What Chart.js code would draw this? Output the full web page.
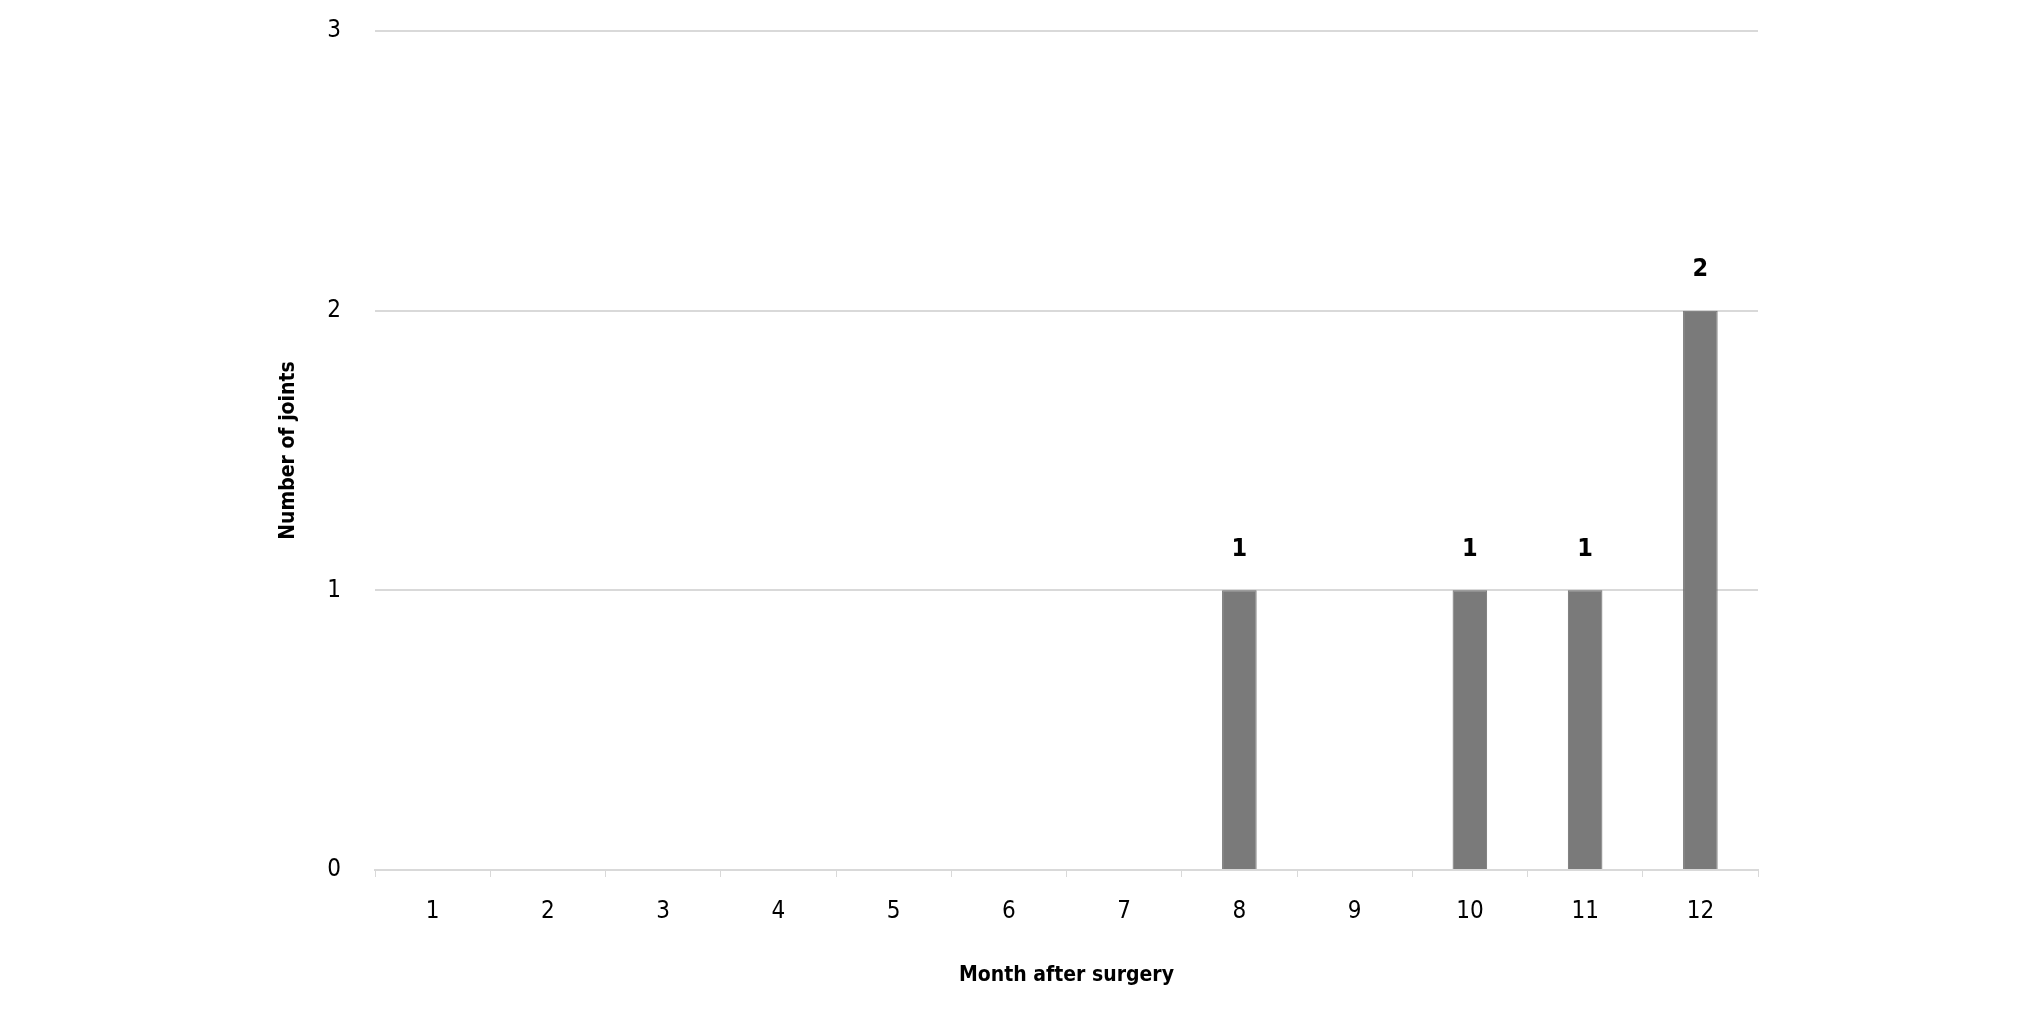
<!DOCTYPE html>
<html lang="en">
<head>
  <meta charset="UTF-8">
  <title>Month after surgery</title>
  <script src="https://cdn.jsdelivr.net/npm/chart.js@4.4.2/dist/chart.umd.min.js"></script>
  <style>
    body {
      margin: 0;
      background: #ffffff;
    }
    .wrap {
      width: 2020px;
      height: 1010px;
    }
  </style>
</head>
<body>
  <div class="wrap"><canvas id="chart"></canvas></div>
  <script>
    const months = ['1', '2', '3', '4', '5', '6', '7', '8', '9', '10', '11', '12'];
    const joints = [0, 0, 0, 0, 0, 0, 0, 1, 0, 1, 1, 2];
    const yTicks = [0, 1, 2, 3];

    const FONT = '"Liberation Sans Narrow", "DejaVu Sans Condensed", "Roboto Condensed", "Liberation Sans", sans-serif';

    // value labels above non-zero bars
    const barLabels = {
      id: 'barLabels',
      afterDatasetsDraw(chart) {
        const ctx = chart.ctx;
        const meta = chart.getDatasetMeta(0);
        ctx.save();
        ctx.font = 'bold 25px ' + FONT;
        ctx.fillStyle = '#000';
        ctx.textAlign = 'center';
        ctx.textBaseline = 'middle';
        meta.data.forEach((bar, i) => {
          if (!joints[i]) return;
          ctx.fillText(String(joints[i]), bar.x, bar.y - 41);
        });
        ctx.restore();
      }
    };

    new Chart(document.getElementById('chart'), {
      type: 'bar',
      data: {
        labels: months,
        datasets: [{
          data: joints,
          backgroundColor: '#7a7a7a',
          borderColor: '#6e6e6e',
          borderWidth: 1,
          categoryPercentage: 0.3,
          barPercentage: 1
        }]
      },
      options: {
        responsive: true,
        maintainAspectRatio: false,
        animation: false,
        layout: { padding: { left: 262, right: 262, top: 31, bottom: 18 } },
        plugins: {
          legend: { display: false },
          tooltip: { enabled: false }
        },
        scales: {
          x: {
            grid: { offset: true, drawOnChartArea: false, drawTicks: true, tickLength: 7, color: '#d9d9d9' },
            border: { color: '#d9d9d9', width: 2 },
            ticks: { color: '#000', font: { family: FONT, size: 24 }, padding: 20 },
            title: { display: true, text: 'Month after surgery', color: '#000', font: { family: FONT, size: 21, weight: 'bold' }, padding: { top: 20 } },
            afterFit: (s) => { s.height = 122; }
          },
          y: {
            min: 0,
            max: 3,
            afterBuildTicks: (s) => { s.ticks = yTicks.map(v => ({ value: v })); },
            // invisible tick marks keep the labels away from the plot without adding top padding
            grid: { color: '#d9d9d9', lineWidth: 2, drawTicks: true, tickLength: 32, tickColor: 'rgba(0,0,0,0)' },
            border: { display: false },
            ticks: { color: '#000', font: { family: FONT, size: 24 }, padding: 2 },
            title: { display: true, text: 'Number of joints', color: '#000', font: { family: FONT, size: 21, weight: 'bold' }, padding: { top: 14 } },
            afterFit: (s) => { s.width = 113; }
          }
        }
      },
      plugins: [barLabels]
    });
  </script>
</body>
</html>
